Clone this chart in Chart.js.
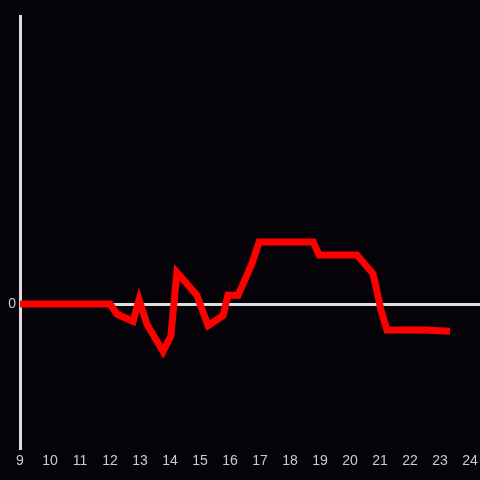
<!DOCTYPE html>
<html lang="en">
    <head>
        <meta charset="utf-8" />
        <title>Line</title>
        <script src="https://cdnjs.cloudflare.com/ajax/libs/Chart.js/4.4.0/chart.umd.js"></script>
        <style>
            html, body {
                margin: 0;
                padding: 0;
                background: #050307;
            }
            #wrap {
                width: 480px;
                height: 480px;
            }
        </style>
    </head>
    <body>
        <div id="wrap"><canvas id="canvas"></canvas></div>
        <script>
            // hours of day and values
            const hours = [9, 12.0, 12.23, 12.77, 12.97, 13.23, 13.77, 14.03, 14.23, 14.9, 15.0, 15.27, 15.77, 15.93, 16.27, 16.73, 16.97, 18.77, 18.97, 20.23, 20.77, 21.03, 21.23, 22.43, 23.33];
            const values = [0, 0, -0.07, -0.12, 0.03, -0.14, -0.33, -0.22, 0.22, 0.06, 0.0, -0.15, -0.08, 0.06, 0.06, 0.28, 0.43, 0.43, 0.34, 0.34, 0.21, -0.04, -0.18, -0.18, -0.19];
            const xTicks = [9, 10, 11, 12, 13, 14, 15, 16, 17, 18, 19, 20, 21, 22, 23, 24];
            const yTicks = [0];

            const points = hours.map((h, i) => ({ x: h, y: values[i] }));

            Chart.defaults.font.family = "'Liberation Sans', Arial, sans-serif";
            Chart.defaults.font.size = 14;
            Chart.defaults.color = '#cccccc';

            new Chart('canvas', {
                type: 'line',
                data: {
                    datasets: [{
                        data: points,
                        borderColor: '#ff0000',
                        borderWidth: 7,
                        pointRadius: 0,
                        tension: 0
                    }]
                },
                options: {
                    responsive: true,
                    maintainAspectRatio: false,
                    animation: false,
                    layout: { padding: { top: 16, right: -2 } },
                    plugins: {
                        legend: { display: false },
                        tooltip: { enabled: false }
                    },
                    scales: {
                        x: {
                            type: 'linear',
                            min: 9,
                            max: 24.333,
                            afterBuildTicks: s => { s.ticks = xTicks.map(v => ({ value: v })); },
                            afterFit: s => { s.height = 32; },
                            grid: { display: false },
                            border: { display: false },
                            ticks: { padding: -3, maxRotation: 0, autoSkip: false }
                        },
                        y: {
                            min: -1,
                            max: 2,
                            afterBuildTicks: s => { s.ticks = yTicks.map(v => ({ value: v })); },
                            afterFit: s => { s.width = 20; },
                            grid: {
                                color: c => c.tick && c.tick.value === 0 ? '#dddddd' : 'transparent',
                                lineWidth: 3,
                                drawTicks: false
                            },
                            border: { display: true, color: '#dddddd', width: 3 },
                            ticks: { padding: 4 }
                        }
                    }
                }
            });
        </script>
    </body>
</html>
